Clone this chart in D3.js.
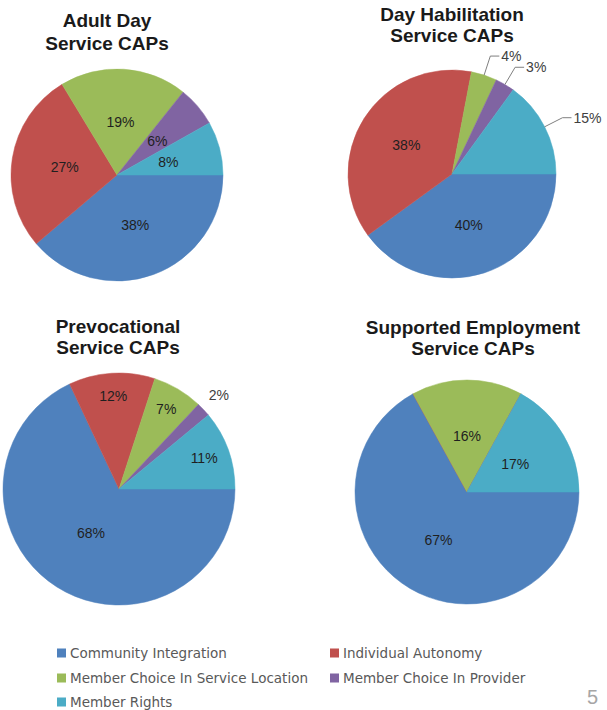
<!DOCTYPE html>
<html>
<head>
<meta charset="utf-8">
<script src="https://cdn.jsdelivr.net/npm/d3@7"></script>
<style>
  body { margin: 0; background: #fff; }
  svg { display: block; }
</style>
</head>
<body>
<svg id="chart" width="607" height="710"></svg>
<script>
// categories + colours (Office 2007 palette)
const categories = [
  'Community Integration',
  'Individual Autonomy',
  'Member Choice In Service Location',
  'Member Choice In Provider',
  'Member Rights'
];
const colors = ['#4f81bd', '#c0504d', '#9bbb59', '#8064a2', '#4bacc6'];

// one array per pie, same order as categories
const adultDay = [38, 27, 19, 6, 8];
const dayHabilitation = [40, 38, 4, 3, 15];
const prevocational = [68, 12, 7, 2, 11];
const supportedEmployment = [67, 0, 16, 0, 17];

const titles = [
  ['Adult Day', 'Service CAPs'],
  ['Day Habilitation', 'Service CAPs'],
  ['Prevocational', 'Service CAPs'],
  ['Supported Employment', 'Service CAPs']
];
const pageNumber = '5';

// layout only (where each pie sits, how far out labels go)
const panels = [
  { values: adultDay, cx: 117, cy: 175, r: 106, tx: 107, ty: 27, lh: 23,
    labelR: [0.5, 0.5, 0.5, 0.5, 0.5], outside: [], leader: false },
  { values: dayHabilitation, cx: 452, cy: 174, r: 104, tx: 452, ty: 21, lh: 21,
    labelR: [0.52, 0.52, 0.52, 0.52, 0.52], outside: [2, 3, 4], leader: true },
  { values: prevocational, cx: 119, cy: 489, r: 116, tx: 118, ty: 333, lh: 21,
    labelR: [0.45, 0.8, 0.8, 1.18, 0.78], outside: [3], leader: false },
  { values: supportedEmployment, cx: 467, cy: 492, r: 112, tx: 473, ty: 334, lh: 21,
    labelR: [0.5, 0.5, 0.5, 0.5, 0.5], outside: [], leader: false }
];

const svg = d3.select('#chart');

const pie = d3.pie()
  .sort(null)
  .value((d) => d)
  .startAngle(Math.PI / 2)
  .endAngle(Math.PI / 2 + 2 * Math.PI);

panels.forEach((p, pi) => {
  const g = svg.append('g').attr('transform', `translate(${p.cx},${p.cy})`);
  const arc = d3.arc().innerRadius(0).outerRadius(p.r);
  const arcs = pie(p.values);

  g.selectAll('path')
    .data(arcs)
    .enter()
    .append('path')
    .attr('d', arc)
    .attr('fill', (d, i) => colors[i])
    .attr('stroke', (d, i) => colors[i])
    .attr('stroke-width', 0.5);

  arcs.forEach((a, i) => {
    if (a.value === 0) return;
    const mid = (a.startAngle + a.endAngle) / 2;
    const isOut = p.outside.includes(i);
    const label = a.value + '%';

    if (isOut && p.leader) {
      const r0 = p.r;
      const r1 = p.r + 20;
      const x0 = Math.sin(mid) * r0, y0 = -Math.cos(mid) * r0;
      const x1 = Math.sin(mid) * r1, y1 = -Math.cos(mid) * r1;
      const x2 = x1 + 9;
      g.append('polyline')
        .attr('points', `${x0},${y0} ${x1},${y1} ${x2},${y1}`)
        .attr('fill', 'none')
        .attr('stroke', '#7f7f7f')
        .attr('stroke-width', 1);
      g.append('text')
        .attr('x', x2 + 2)
        .attr('y', y1)
        .attr('dominant-baseline', 'central')
        .attr('font-family', 'Liberation Sans, Arial, sans-serif')
        .attr('font-size', 14)
        .attr('fill', '#404040')
        .text(label);
    } else {
      const lr = p.r * p.labelR[i];
      g.append('text')
        .attr('x', Math.sin(mid) * lr)
        .attr('y', -Math.cos(mid) * lr)
        .attr('text-anchor', 'middle')
        .attr('dominant-baseline', 'central')
        .attr('font-family', 'Liberation Sans, Arial, sans-serif')
        .attr('font-size', 14)
        .attr('fill', isOut ? '#404040' : '#1f1f1f')
        .text(label);
    }
  });

  svg.append('text')
    .attr('x', p.tx)
    .attr('y', p.ty)
    .attr('text-anchor', 'middle')
    .attr('font-family', 'Liberation Sans, Arial, sans-serif')
    .attr('font-weight', 'bold')
    .attr('font-size', 19)
    .attr('fill', '#1a1a1a')
    .selectAll('tspan')
    .data(titles[pi])
    .enter()
    .append('tspan')
    .attr('x', p.tx)
    .attr('dy', (d, i) => (i === 0 ? 0 : p.lh))
    .text((d) => d);
});

// legend, two columns
const legendX = [57, 330];
const legendY = [653, 678, 702];
const legend = svg.append('g');
categories.forEach((c, i) => {
  const x = legendX[i % 2];
  const y = legendY[Math.floor(i / 2)];
  legend.append('rect')
    .attr('x', x)
    .attr('y', y - 4.5)
    .attr('width', 9)
    .attr('height', 9)
    .attr('fill', colors[i]);
  legend.append('text')
    .attr('x', x + 13)
    .attr('y', y)
    .attr('dominant-baseline', 'central')
    .attr('font-family', 'DejaVu Sans, sans-serif')
    .attr('font-size', 13.5)
    .attr('fill', '#595959')
    .text(c);
});

svg.append('text')
  .attr('x', 598)
  .attr('y', 704)
  .attr('text-anchor', 'end')
  .attr('font-family', 'Liberation Sans, Arial, sans-serif')
  .attr('font-size', 20)
  .attr('fill', '#a6a6a6')
  .text(pageNumber);
</script>
</body>
</html>
